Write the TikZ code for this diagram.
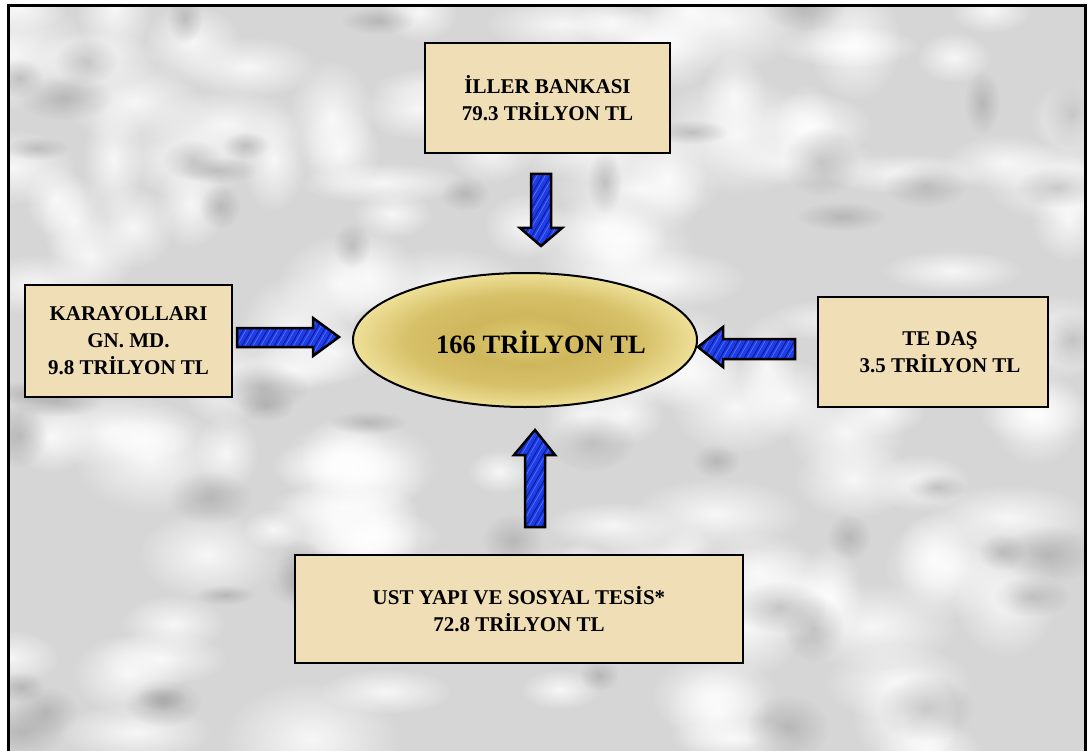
\documentclass[tikz,border=0pt]{standalone}
\usepackage{fontspec}
\setmainfont{Liberation Serif}
\usetikzlibrary{shapes.geometric,patterns.meta,fadings}
\definecolor{marble}{RGB}{214,214,214}
\definecolor{vein}{RGB}{150,150,150}
\definecolor{parch}{RGB}{240,222,182}
\definecolor{arrowblue}{RGB}{30,60,232}
\definecolor{arrowstripe}{RGB}{15,30,140}
\definecolor{arrowlight}{RGB}{90,130,255}
\definecolor{gA}{RGB}{224,204,114}
\definecolor{gB}{RGB}{206,182,92}
\definecolor{gC}{RGB}{214,192,104}
\definecolor{gD}{RGB}{238,224,152}
\pgfdeclareradialshading{goldrings}{\pgfpoint{0bp}{0bp}}{color(0bp)=(gA); color(9bp)=(gB); color(17bp)=(gC); color(25bp)=(gD); color(50bp)=(gD)}
\tikzfading[name=softspot, inner color=transparent!20, outer color=transparent!100]
\begin{document}
\begin{tikzpicture}[x=1pt,y=-1pt,
  boxtext/.style={align=center,inner sep=0pt,font=\fontsize{21}{27}\selectfont\bfseries},
  box/.style={boxtext,draw=black,line width=2.5pt,fill=parch},
  totalnode/.style={ellipse,draw=black,line width=2pt,shade,shading=goldrings,inner sep=0pt},
  blockarrow/.style={preaction={fill=arrowblue},
    preaction={pattern={Lines[angle=60,distance=7pt,line width=0.9pt]},pattern color=arrowstripe},
    pattern={Lines[angle=60,distance=7pt,line width=0.5pt,xshift=3pt]},pattern color=arrowlight,
    draw=black,line width=2.5pt,line join=miter},
  whitespot/.style={fill=white,path fading=softspot},
  greyspot/.style={fill=vein,path fading=softspot,opacity=0.6}]
\useasboundingbox (0,0) rectangle (1091,751);
\fill[white] (0,0) rectangle (1091,751);
\fill[marble] (8,6) rectangle (1085,760);
\begin{scope}
\clip (8,6) rectangle (1085,760);
\pgfmathsetseed{11}
\foreach \i in {1,...,140}{
  \pgfmathsetmacro{\px}{8+rnd*1077}
  \pgfmathsetmacro{\py}{6+rnd*745}
  \pgfmathsetmacro{\rx}{30+rnd*60}
  \pgfmathsetmacro{\ry}{20+rnd*40}
  \path[whitespot] (\px,\py) ellipse ({\rx} and {\ry});
}
\foreach \i in {1,...,60}{
  \pgfmathsetmacro{\px}{8+rnd*1077}
  \pgfmathsetmacro{\py}{6+rnd*745}
  \pgfmathsetmacro{\rx}{15+rnd*35}
  \pgfmathsetmacro{\ry}{10+rnd*25}
  \path[greyspot] (\px,\py) ellipse ({\rx} and {\ry});
}
\end{scope}
\draw[line width=3pt] (8,6) rectangle (1085,760);

\node[box,minimum width=245,minimum height=110] (iller) at (547.5,98) {İLLER BANKASI\\79.3 TRİLYON TL};
\node[box,minimum width=207,minimum height=112] (kgm) at (128.5,341) {KARAYOLLARI\\GN. MD.\\9.8 TRİLYON TL};
\node[box,minimum width=230,minimum height=110] (tedas) at (933,352) {};
\node[boxtext] (tedastext) at ([xshift=7pt]tedas.center) {TE DAŞ\\3.5 TRİLYON TL};
\node[box,minimum width=448,minimum height=108] (ust) at (519,609) {UST YAPI VE SOSYAL TESİS*\\72.8 TRİLYON TL};
\node[totalnode,minimum width=344,minimum height=134] (total) at (525,340) {};
\node[inner sep=0pt,font=\fontsize{26.5}{30}\selectfont\bfseries] (totaltext) at ([xshift=16pt,yshift=-2pt]total.center) {166 TRİLYON TL};

\draw[blockarrow] (531,174) -- (551,174) -- (551,228) -- (562,228) -- (541,246) -- (520,228) -- (531,228) -- cycle;
\draw[blockarrow] (525,527) -- (545,527) -- (545,455) -- (555,455) -- (535,430) -- (514,455) -- (525,455) -- cycle;
\draw[blockarrow] (237,328) -- (313,328) -- (313,318) -- (339,337) -- (313,356) -- (313,347) -- (237,347) -- cycle;
\draw[blockarrow] (795,339) -- (723,339) -- (723,327) -- (698,347) -- (723,367) -- (723,359) -- (795,359) -- cycle;
\end{tikzpicture}
\end{document}
